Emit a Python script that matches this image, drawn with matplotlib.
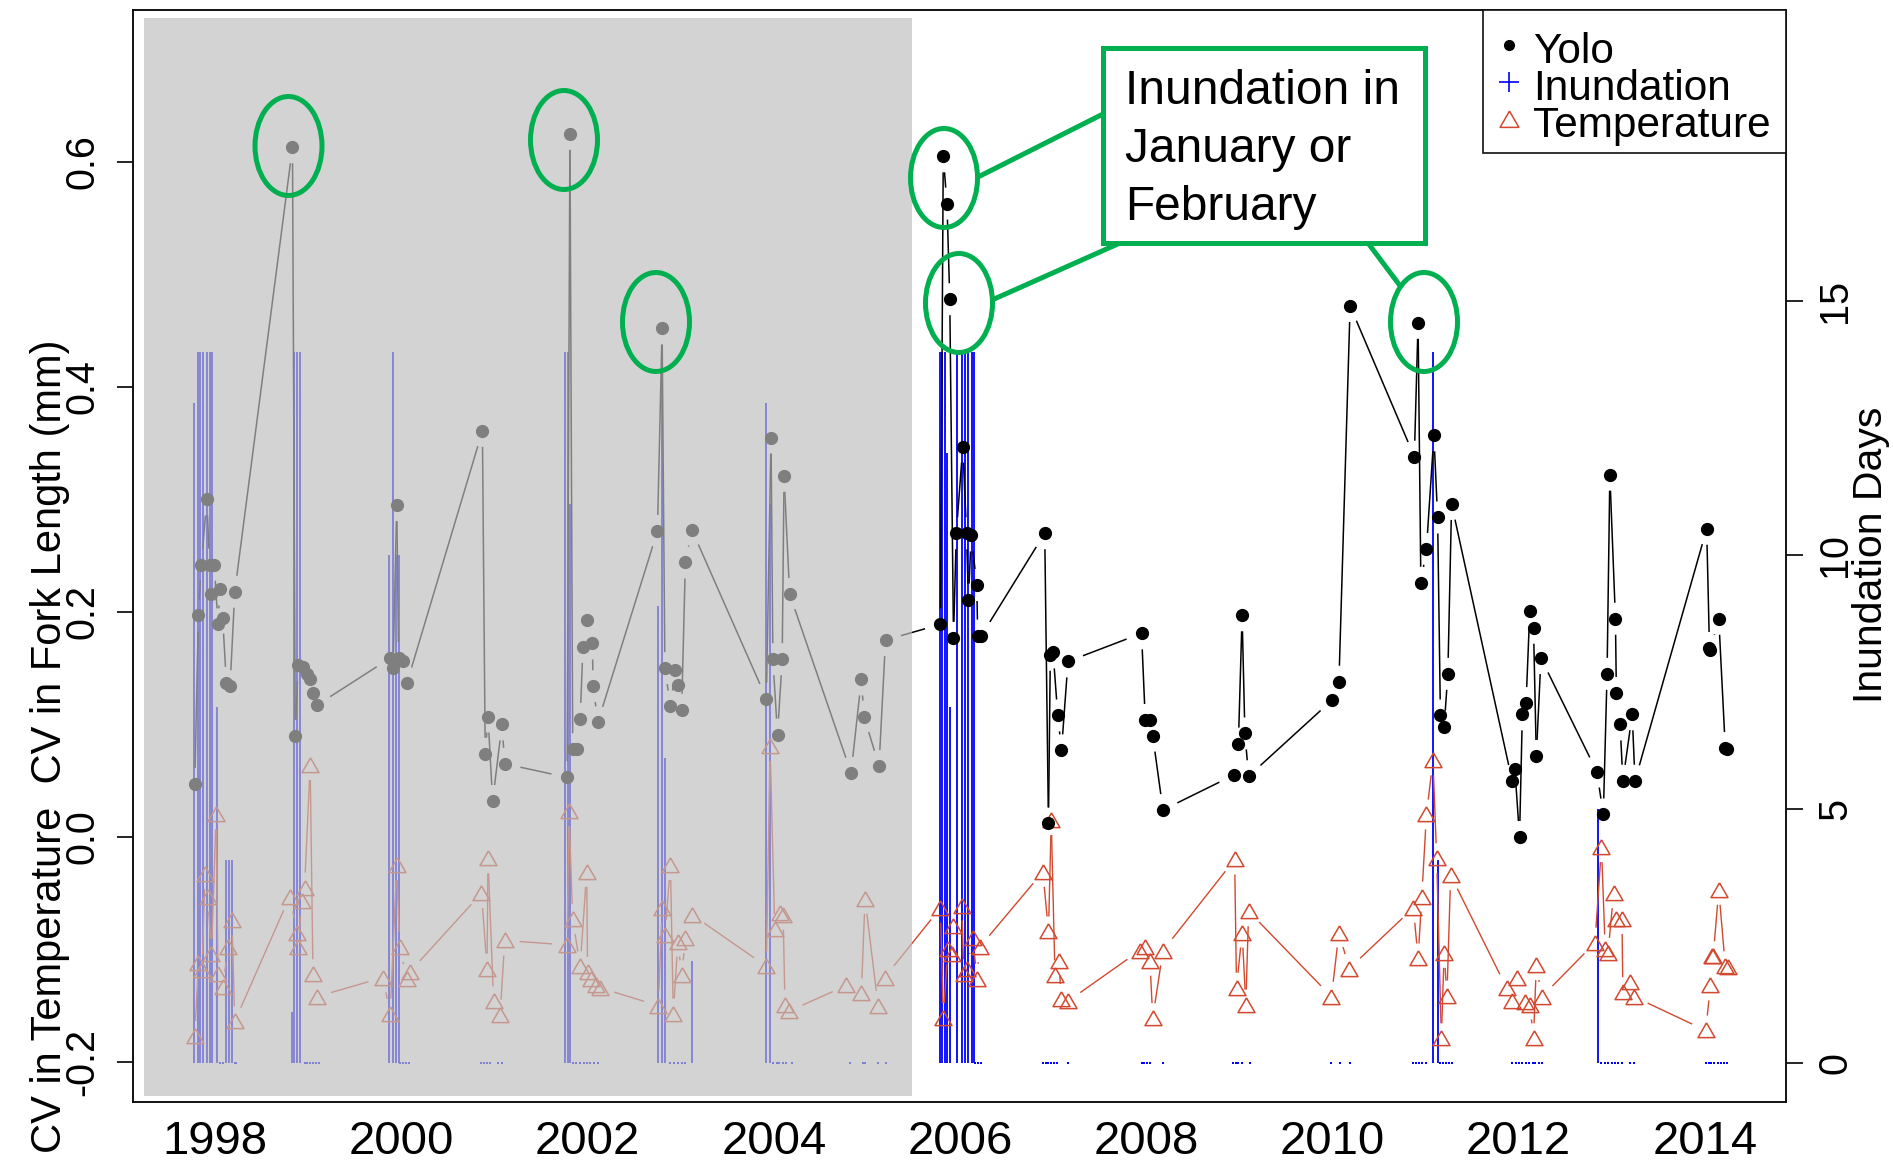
import numpy as np
import matplotlib
matplotlib.use('Agg')
import matplotlib.pyplot as plt
from matplotlib.patches import Rectangle, Ellipse
from matplotlib.lines import Line2D
from matplotlib.collections import LineCollection
from matplotlib.transforms import Affine2D

plt.rcParams['font.family'] = ['Liberation Sans', 'DejaVu Sans']

# ---------------- data ----------------
yolo_year = [1997.78, 1997.82, 1997.85, 1997.91, 1997.94, 1997.95, 1997.99, 1998.03, 1998.05, 1998.08,
             1998.12, 1998.16, 1998.21,
             1998.83, 1998.86, 1998.89, 1998.94, 1998.99, 1999.02, 1999.05, 1999.09,
             1999.88, 1999.91, 1999.95, 1999.97, 2000.02, 2000.06,
             2000.87, 2000.90, 2000.93, 2000.98, 2001.08, 2001.11,
             2001.78, 2001.81, 2001.84, 2001.89, 2001.92, 2001.95, 2001.99, 2002.05, 2002.06, 2002.11,
             2002.75, 2002.80, 2002.83, 2002.89, 2002.94, 2002.97, 2003.01, 2003.05, 2003.12,
             2003.92, 2003.97, 2003.99, 2004.04, 2004.09, 2004.11, 2004.17,
             2004.83, 2004.94, 2004.97, 2005.13, 2005.20,
             2005.79, 2005.82, 2005.86, 2005.89, 2005.93, 2005.96, 2006.03, 2006.07, 2006.09, 2006.12,
             2006.18, 2006.19, 2006.23,
             2006.91, 2006.95, 2006.97, 2007.00, 2007.05, 2007.09, 2007.16,
             2007.95, 2007.99, 2008.04, 2008.07, 2008.18,
             2008.94, 2008.99, 2009.03, 2009.06, 2009.10,
             2010.00, 2010.07, 2010.19,
             2010.88, 2010.92, 2010.95, 2011.01, 2011.09, 2011.13, 2011.16, 2011.20, 2011.24, 2011.28,
             2011.93, 2011.96, 2012.01, 2012.04, 2012.08, 2012.12, 2012.16, 2012.19, 2012.24,
             2012.84, 2012.91, 2012.95, 2012.98, 2013.04, 2013.05, 2013.09, 2013.12, 2013.22, 2013.25,
             2014.02, 2014.05, 2014.06, 2014.15, 2014.22, 2014.24]
yolo_cv = [0.047, 0.197, 0.242, 0.300, 0.242, 0.216, 0.242, 0.189, 0.220, 0.195,
           0.137, 0.134, 0.218,
           0.613, 0.090, 0.153, 0.151, 0.145, 0.140, 0.128, 0.117,
           0.159, 0.150, 0.295, 0.159, 0.156, 0.137,
           0.361, 0.074, 0.107, 0.032, 0.100, 0.065,
           0.053, 0.625, 0.078, 0.078, 0.105, 0.169, 0.193, 0.172, 0.134, 0.102,
           0.272, 0.452, 0.150, 0.116, 0.148, 0.135, 0.113, 0.244, 0.273,
           0.123, 0.355, 0.158, 0.091, 0.158, 0.321, 0.216,
           0.057, 0.140, 0.107, 0.063, 0.175,
           0.189, 0.605, 0.563, 0.478, 0.177, 0.270, 0.347, 0.270, 0.211, 0.268,
           0.224, 0.179, 0.179,
           0.270, 0.012, 0.162, 0.164, 0.108, 0.077, 0.156,
           0.181, 0.104, 0.104, 0.090, 0.024,
           0.055, 0.083, 0.197, 0.092, 0.054,
           0.122, 0.138, 0.472,
           0.338, 0.457, 0.226, 0.256, 0.357, 0.284, 0.108, 0.098, 0.145, 0.296,
           0.050, 0.060, 0.000, 0.109, 0.119, 0.201, 0.186, 0.072, 0.159,
           0.058, 0.020, 0.145, 0.322, 0.194, 0.128, 0.100, 0.050, 0.109, 0.050,
           0.274, 0.168, 0.166, 0.194, 0.079, 0.078]

temp_year = [1997.78, 1997.82, 1997.86, 1997.89, 1997.92, 1997.96, 1998.01, 1998.03, 1998.08, 1998.14,
             1998.18, 1998.21,
             1998.80, 1998.88, 1998.89, 1998.93, 1998.96, 1999.02, 1999.05, 1999.09,
             1999.80, 1999.88, 1999.95, 1999.98, 2000.06, 2000.09,
             2000.86, 2000.92, 2000.93, 2000.99, 2001.06, 2001.11,
             2001.78, 2001.80, 2001.84, 2001.92, 2001.99, 2002.00, 2002.04, 2002.09, 2002.13,
             2002.76, 2002.80, 2002.83, 2002.89, 2002.92, 2002.97, 2003.01, 2003.05, 2003.12,
             2003.92, 2003.96, 2004.01, 2004.07, 2004.10, 2004.12, 2004.16,
             2004.78, 2004.94, 2004.98, 2005.12, 2005.19,
             2005.79, 2005.82, 2005.87, 2005.91, 2005.93, 2006.02, 2006.04, 2006.07, 2006.14, 2006.18, 2006.21,
             2006.89, 2006.95, 2006.98, 2007.02, 2007.06, 2007.09, 2007.16,
             2007.93, 2007.99, 2008.04, 2008.07, 2008.18,
             2008.95, 2008.97, 2009.03, 2009.07, 2009.10,
             2009.99, 2010.07, 2010.18,
             2010.87, 2010.92, 2010.96, 2011.01, 2011.08, 2011.12, 2011.17, 2011.20, 2011.23, 2011.27,
             2011.87, 2011.93, 2011.98, 2012.07, 2012.12, 2012.16, 2012.19, 2012.25,
             2012.82, 2012.89, 2012.93, 2012.96, 2013.02, 2013.05, 2013.11, 2013.12, 2013.20, 2013.24,
             2014.01, 2014.06, 2014.08, 2014.09, 2014.15, 2014.22, 2014.25]
temp_cv = [-0.177, -0.112, -0.118, -0.033, -0.053, -0.104, 0.020, -0.122, -0.133, -0.098,
           -0.074, -0.164,
           -0.053, -0.085, -0.098, -0.057, -0.045, 0.064, -0.122, -0.142,
           -0.125, -0.157, -0.025, -0.098, -0.126, -0.120,
           -0.050, -0.117, -0.019, -0.146, -0.158, -0.092,
           -0.096, 0.023, -0.073, -0.115, -0.031, -0.120, -0.126, -0.132, -0.134,
           -0.150, -0.063, -0.087, -0.025, -0.157, -0.093, -0.123, -0.090, -0.069,
           -0.115, 0.081, -0.082, -0.068, -0.069, -0.149, -0.155,
           -0.132, -0.139, -0.055, -0.150, -0.125,
           -0.063, -0.161, -0.100, -0.104, -0.079, -0.061, -0.122, -0.117, -0.090, -0.126, -0.098,
           -0.031, -0.084, 0.015, -0.123, -0.110, -0.144, -0.146,
           -0.101, -0.098, -0.110, -0.161, -0.101,
           -0.020, -0.134, -0.085, -0.149, -0.066,
           -0.142, -0.085, -0.117,
           -0.063, -0.108, -0.053, 0.020, 0.068, -0.019, -0.179, -0.103, -0.141, -0.034,
           -0.134, -0.146, -0.125, -0.147, -0.149, -0.179, -0.114, -0.142,
           -0.094, -0.009, -0.100, -0.103, -0.050, -0.073, -0.073, -0.138, -0.129, -0.142,
           -0.172, -0.132, -0.106, -0.106, -0.047, -0.115, -0.116]

inund_year = [1997.77, 1997.81, 1997.84, 1997.87, 1997.91, 1997.94, 1997.97, 1998.02, 1998.12, 1998.15, 1998.18,
              1998.82, 1998.85, 1998.88, 1998.91,
              1999.87, 1999.91, 1999.94, 1999.97,
              2001.76, 2001.79, 2001.81,
              2002.76, 2002.80, 2002.83, 2003.12,
              2003.92, 2003.96,
              2005.79, 2005.81, 2005.84, 2005.86, 2005.89, 2005.97, 2006.02, 2006.05, 2006.09, 2006.13, 2006.15,
              2011.08, 2011.13,
              2012.85]
inund_days = [13, 14, 14, 14, 14, 14, 14, 7, 4, 4, 4,
              1, 14, 14, 14,
              10, 14, 10, 10,
              14, 14, 11,
              9, 14, 6, 2,
              13, 11,
              14, 14, 14, 12, 7, 14, 14, 14, 14, 14, 14,
              14, 4,
              5]
inund_zero_year = [1998.05, 1998.08, 1998.21, 1998.22,
                   1998.96, 1998.99, 1999.02, 1999.05, 1999.08, 1999.11,
                   1999.99, 2000.02, 2000.05, 2000.08,
                   2000.86, 2000.89, 2000.92, 2000.95, 2001.04, 2001.08,
                   2001.84, 2001.88, 2001.92, 2001.96, 2001.99, 2002.03, 2002.07, 2002.11,
                   2002.89, 2002.93, 2002.97, 2003.01, 2003.05,
                   2003.99, 2004.03, 2004.06, 2004.10, 2004.13, 2004.19,
                   2004.82, 2004.96, 2004.98, 2005.12, 2005.20,
                   2006.16, 2006.19, 2006.23,
                   2006.89, 2006.92, 2006.95, 2006.98, 2007.01, 2007.04, 2007.16,
                   2007.95, 2007.98, 2008.01, 2008.04, 2008.18,
                   2008.93, 2008.96, 2008.99, 2009.03, 2009.11,
                   2009.99, 2010.08, 2010.19,
                   2010.87, 2010.90, 2010.93, 2010.96, 2011.01, 2011.16, 2011.19, 2011.22, 2011.25, 2011.28,
                   2011.93, 2011.97, 2012.00, 2012.04, 2012.08, 2012.11, 2012.15, 2012.18, 2012.22, 2012.25,
                   2012.89, 2012.93, 2012.96, 2013.00, 2013.03, 2013.07, 2013.11, 2013.20, 2013.24,
                   2014.01, 2014.04, 2014.07, 2014.10, 2014.14, 2014.17, 2014.21, 2014.24]

year_ticks = [1998, 2000, 2002, 2004, 2006, 2008, 2010, 2012, 2014]
year_labels = [str(y) for y in year_ticks]
cv_ticks = [-0.2, 0.0, 0.2, 0.4, 0.6]
cv_labels = ['-0.2', '0.0', '0.2', '0.4', '0.6']
day_ticks = [0, 5, 10, 15]
day_labels = ['0', '5', '10', '15']
shade_start, shade_end = 1997.235, 2005.484

legend_labels = ['Yolo', 'Inundation', 'Temperature']
callout_lines = ['Inundation in', 'January or', 'February']

# ---------------- styling ----------------
BLUE = '#0000ff'
TEMP_C = '#d2492f'
GREEN = '#00b050'
TRI = [(0, 0.45), (-0.5, -0.42), (0.5, -0.42), (0, 0.45)]

W, H = 1893, 1162
fig = plt.figure(figsize=(W / 100, H / 100), dpi=100)
PX = Affine2D().scale(1 / W, -1 / H).translate(0, 1) + fig.transFigure

ax = fig.add_axes([133 / W, 1 - 1102 / H, (1786 - 133) / W, (1102 - 10) / H])  # inundation (right scale)
ax2 = ax.twinx()  # CV (left scale)

ax.set_xlim(1997.117, 2014.872)
ax.set_ylim(-0.768, 20.73)
ax2.set_ylim(-0.2356, 0.7351)

ax.yaxis.tick_right()
ax2.yaxis.tick_left()

ax.set_xticks(year_ticks, year_labels)
ax.tick_params(axis='x', length=0, labelsize=34, pad=13)
ax.set_yticks(day_ticks, day_labels, rotation=90, va='center')
ax.tick_params(axis='y', right=True, left=False, labelright=True, labelleft=False,
               length=12.2, width=1.2, labelsize=28.5, pad=9.7)
ax2.set_yticks(cv_ticks, cv_labels, rotation=90, va='center')
ax2.tick_params(axis='y', left=True, right=False, labelleft=True, labelright=False,
                length=11.5, width=1.2, labelsize=28.5, pad=11.3)
for a in (ax, ax2):
    for s in a.spines.values():
        s.set_linewidth(1.2)
        s.set_color('#111111')

# ---------------- inundation ----------------
ax.vlines(inund_year, 0, inund_days, colors=BLUE, linewidth=1.3, zorder=2)
ax.plot(inund_zero_year, np.zeros(len(inund_zero_year)), linestyle='none', marker='s',
        ms=1.6, mew=0, color=BLUE, zorder=2)


def gapped(axis, xs, ys, gap, color, lw, zorder):
    pts = axis.transData.transform(np.column_stack([xs, ys]))
    inv = axis.transData.inverted()
    segs = []
    for p0, p1 in zip(pts[:-1], pts[1:]):
        d = p1 - p0
        L = np.hypot(d[0], d[1])
        if L > 2 * gap:
            u = d / L
            segs.append(inv.transform(np.array([p0 + u * gap, p1 - u * gap])))
    axis.add_collection(LineCollection(segs, colors=color, linewidths=lw, zorder=zorder),
                        autolim=False)


# ---------------- temperature & yolo (type "b") ----------------
gapped(ax2, temp_year, temp_cv, 15, TEMP_C, 1.0, 3)
ax2.plot(temp_year, temp_cv, linestyle='none', marker=TRI, ms=12.2, mfc='none',
         mec=TEMP_C, mew=1.1, zorder=3)
gapped(ax2, yolo_year, yolo_cv, 16, 'black', 1.1, 4)
ax2.plot(yolo_year, yolo_cv, linestyle='none', marker='o', ms=8.5, color='black', zorder=4)

ax.set_xlim(1997.117, 2014.872)
ax2.set_ylim(-0.2356, 0.7351)

# gray shading over the earlier period
ax2.add_patch(Rectangle((shade_start, 0.0055), shade_end - shade_start, 0.9872,
                        transform=ax2.get_xaxis_transform(), facecolor=(190 / 255,) * 3,
                        alpha=0.675, edgecolor='none', zorder=20))

# ---------------- axis labels ----------------
fig.text(50, 746, 'CV in Temperature  CV in Fork Length (mm)', transform=PX, rotation=90,
         ha='center', va='center', fontsize=30)
fig.text(1871, 555, 'Inundation Days', transform=PX, rotation=90,
         ha='center', va='center', fontsize=29.5)

# ---------------- legend ----------------
fig.add_artist(Rectangle((1483, 10), 303, 143, transform=PX, facecolor='white',
                         edgecolor='#111111', linewidth=1.2))
leg_y = [44.5, 81.5, 118.6]
leg_base = [63, 100, 137]
fig.add_artist(Line2D([1509], [leg_y[0]], transform=PX, marker='o', ms=7, color='black', ls='none'))
fig.add_artist(Line2D([1509], [leg_y[1]], transform=PX, marker='+', ms=14, mew=1.2, color=BLUE, ls='none'))
fig.add_artist(Line2D([1509], [leg_y[2]], transform=PX, marker=TRI, ms=13.5, mfc='none',
                      mec=TEMP_C, mew=1.1, ls='none'))
for lab, yb in zip(legend_labels, leg_base):
    fig.text(1533, yb, lab, transform=PX, fontsize=30.5, va='baseline', ha='left')

# ---------------- callout ----------------
for (cx, cy) in [(288.5, 146), (564, 140), (656, 322), (944, 178), (959, 303), (1424, 322)]:
    fig.add_artist(Ellipse((cx, cy), 67, 99, transform=PX, fill=False,
                           edgecolor=GREEN, linewidth=3.6))
for xs, ys in [([978, 1103], [177, 114]), ([992, 1120], [300, 243]), ([1368, 1401], [243, 287])]:
    fig.add_artist(Line2D(xs, ys, transform=PX, color=GREEN, linewidth=3.6, solid_capstyle='butt'))
fig.add_artist(Rectangle((1103, 47.5), 322, 195.5, transform=PX, facecolor='white',
                         edgecolor=GREEN, linewidth=3.6))
for txt, yb in zip(callout_lines, [103.6, 162.5, 219.6]):
    fig.text(1125, yb, txt, transform=PX, fontsize=34.5, va='baseline', ha='left')

fig.savefig('out.png', dpi=100)
